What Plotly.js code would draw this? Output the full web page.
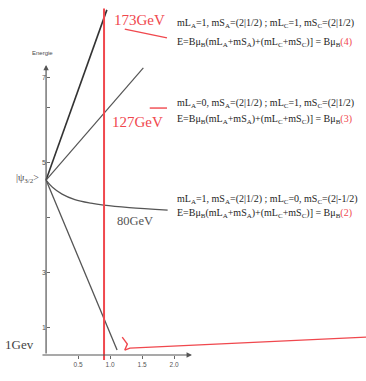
<!DOCTYPE html>
<html>
<head>
<meta charset="utf-8">
<script src="https://cdn.plot.ly/plotly-3.0.1.min.js"></script>
<style>
  html, body { margin: 0; padding: 0; background: #fff; }
  #plot { width: 366px; height: 381px; }
</style>
</head>
<body>
<div id="plot"></div>
<script>
// Energie der Zustände über der magnetischen Flußdichte
const steepUpB = [0, 0.95];
const steepUpE = [6.36, 12.55];
const midUpB = [0, 1.52];
const midUpE = [6.36, 10.44];
const curveB = [0, 0.1, 0.25, 0.45, 0.7, 0.9, 1.3, 1.9];
const curveE = [6.36, 6.1, 5.85, 5.65, 5.52, 5.45, 5.36, 5.27];
const steepDownB = [0, 1.11];
const steepDownE = [6.36, 0.18];

// rote Markierung bei fester Flußdichte
const markB = [0.906, 0.906];
const markE = [-0.18, 12.6];

// rote Hilfslinien
const pointer1B = [1.23, 1.89];
const pointer1E = [11.85, 11.53];
const pointer2B = [1.62, 1.89];
const pointer2E = [8.98, 8.98];
const baseB = [1.19, 1.27, 1.23, 1.31, 5.0];
const baseE = [0.65, 0.40, 0.18, 0.25, 0.65];

const xTickVals = [0.5, 1, 1.5, 2];
const xTickText = ['0.5', '1.0', '1.5', '2.0'];
const yTickVals = [1, 3, 5, 7, 9, 10.1];
const yTickText = ['1', '3', '', '5', '', '7'];

const energyLabels = ['173GeV', '127GeV', '80GeV', '1Gev'];

const formulaLines = [
  'mL<sub>A</sub>=1, mS<sub>A</sub>=(2|1/2) ; mL<sub>C</sub>=1, mS<sub>C</sub>=(2|1/2)',
  'E=Bμ<sub>B</sub>(mL<sub>A</sub>+mS<sub>A</sub>)+(mL<sub>C</sub>+mS<sub>C</sub>)] = Bμ<sub>B</sub><span style="color:#f0484e">(4)</span>',
  'mL<sub>A</sub>=0, mS<sub>A</sub>=(2|1/2) ; mL<sub>C</sub>=1, mS<sub>C</sub>=(2|1/2)',
  'E=Bμ<sub>B</sub>(mL<sub>A</sub>+mS<sub>A</sub>)+(mL<sub>C</sub>+mS<sub>C</sub>)] = Bμ<sub>B</sub><span style="color:#f0484e">(3)</span>',
  'mL<sub>A</sub>=1, mS<sub>A</sub>=(2|1/2) ; mL<sub>C</sub>=0, mS<sub>C</sub>=(2|-1/2)',
  'E=Bμ<sub>B</sub>(mL<sub>A</sub>+mS<sub>A</sub>)+(mL<sub>C</sub>+mS<sub>C</sub>)] = Bμ<sub>B</sub><span style="color:#f0484e">(2)</span>'
];

const RED = '#f0484e';
const INK = '#4a4a4a';

function lineTrace(x, y, color, width, shape) {
  return {
    x, y,
    type: 'scatter',
    mode: 'lines',
    line: { color, width, shape: shape || 'linear', smoothing: 1 },
    hoverinfo: 'skip',
    showlegend: false,
    cliponaxis: false
  };
}

const traces = [
  lineTrace(steepUpB, steepUpE, '#333', 1.6),
  lineTrace(midUpB, midUpE, '#555', 1.2),
  lineTrace(curveB, curveE, '#555', 1.2, 'spline'),
  lineTrace(steepDownB, steepDownE, '#555', 1.3),
  lineTrace(markB, markE, RED, 2),
  lineTrace(pointer1B, pointer1E, RED, 1.4),
  lineTrace(pointer2B, pointer2E, RED, 1.4),
  lineTrace(baseB, baseE, RED, 1.4)
];

const serif = 'Liberation Serif, DejaVu Serif, serif';

const annotations = [
  // Achsen mit Pfeilspitzen
  { x: 0, y: 10.55, ax: 0, ay: 0, xref: 'x', yref: 'y', axref: 'x', ayref: 'y',
    text: '', showarrow: true, arrowhead: 2, arrowsize: 0.9, arrowwidth: 1.2, arrowcolor: '#555' },
  { x: 2.28, y: 0, ax: -0.08, ay: 0, xref: 'x', yref: 'y', axref: 'x', ayref: 'y',
    text: '', showarrow: true, arrowhead: 2, arrowsize: 0.9, arrowwidth: 1.2, arrowcolor: '#555' },

  { x: 1.03, y: 12.18, text: energyLabels[0], xanchor: 'left', font: { family: serif, size: 15, color: RED } },
  { x: 1.0, y: 8.47, text: energyLabels[1], xanchor: 'left', font: { family: serif, size: 15, color: RED } },
  { x: 1.08, y: 4.87, text: energyLabels[2], xanchor: 'left', font: { family: serif, size: 12.5, color: '#555' } },
  { x: -0.68, y: 0.4, text: energyLabels[3], xanchor: 'left', font: { family: serif, size: 13, color: '#444' } },

  { x: -0.08, y: 6.42, text: '|ψ<sub>3/2</sub>>', xanchor: 'right', font: { family: serif, size: 10, color: INK } },
  { x: -0.06, y: 10.98, text: 'Energie', font: { family: 'Liberation Sans, sans-serif', size: 6, color: INK } },
  { x: 0.61, y: -0.69, text: 'magn. Flußdichte', font: { family: 'Liberation Sans, sans-serif', size: 6, color: INK } }
];

const formulaY = [12.07, 11.35, 9.16, 8.58, 5.64, 5.16];
formulaLines.forEach((t, i) => {
  annotations.push({
    x: 2.02, y: formulaY[i], text: t, xanchor: 'left',
    font: { family: serif, size: 10, color: '#1e1e1e' }
  });
});
annotations.forEach(a => { if (a.showarrow === undefined) a.showarrow = false; });

const layout = {
  width: 366,
  height: 381,
  margin: { l: 0, r: 0, t: 0, b: 18 },
  paper_bgcolor: '#fff',
  plot_bgcolor: '#fff',
  showlegend: false,
  xaxis: {
    range: [-0.72, 5.0],
    anchor: 'free',
    position: 8 / 363,
    showline: false,
    showgrid: false,
    zeroline: false,
    tickvals: xTickVals,
    ticktext: xTickText,
    ticks: 'outside',
    ticklen: 3,
    tickcolor: '#666',
    tickfont: { family: 'Liberation Sans, sans-serif', size: 6.5, color: '#555' }
  },
  yaxis: {
    range: [-8 / 27.5, 355 / 27.5],
    anchor: 'free',
    position: 46 / 366,
    showline: false,
    showgrid: false,
    zeroline: false,
    tickvals: yTickVals,
    ticktext: yTickText,
    ticks: 'inside',
    ticklen: 3,
    tickcolor: '#666',
    tickfont: { family: 'Liberation Sans, sans-serif', size: 7, color: '#555' }
  },
  annotations
};

Plotly.newPlot('plot', traces, layout, { staticPlot: true, displayModeBar: false });
</script>
</body>
</html>
